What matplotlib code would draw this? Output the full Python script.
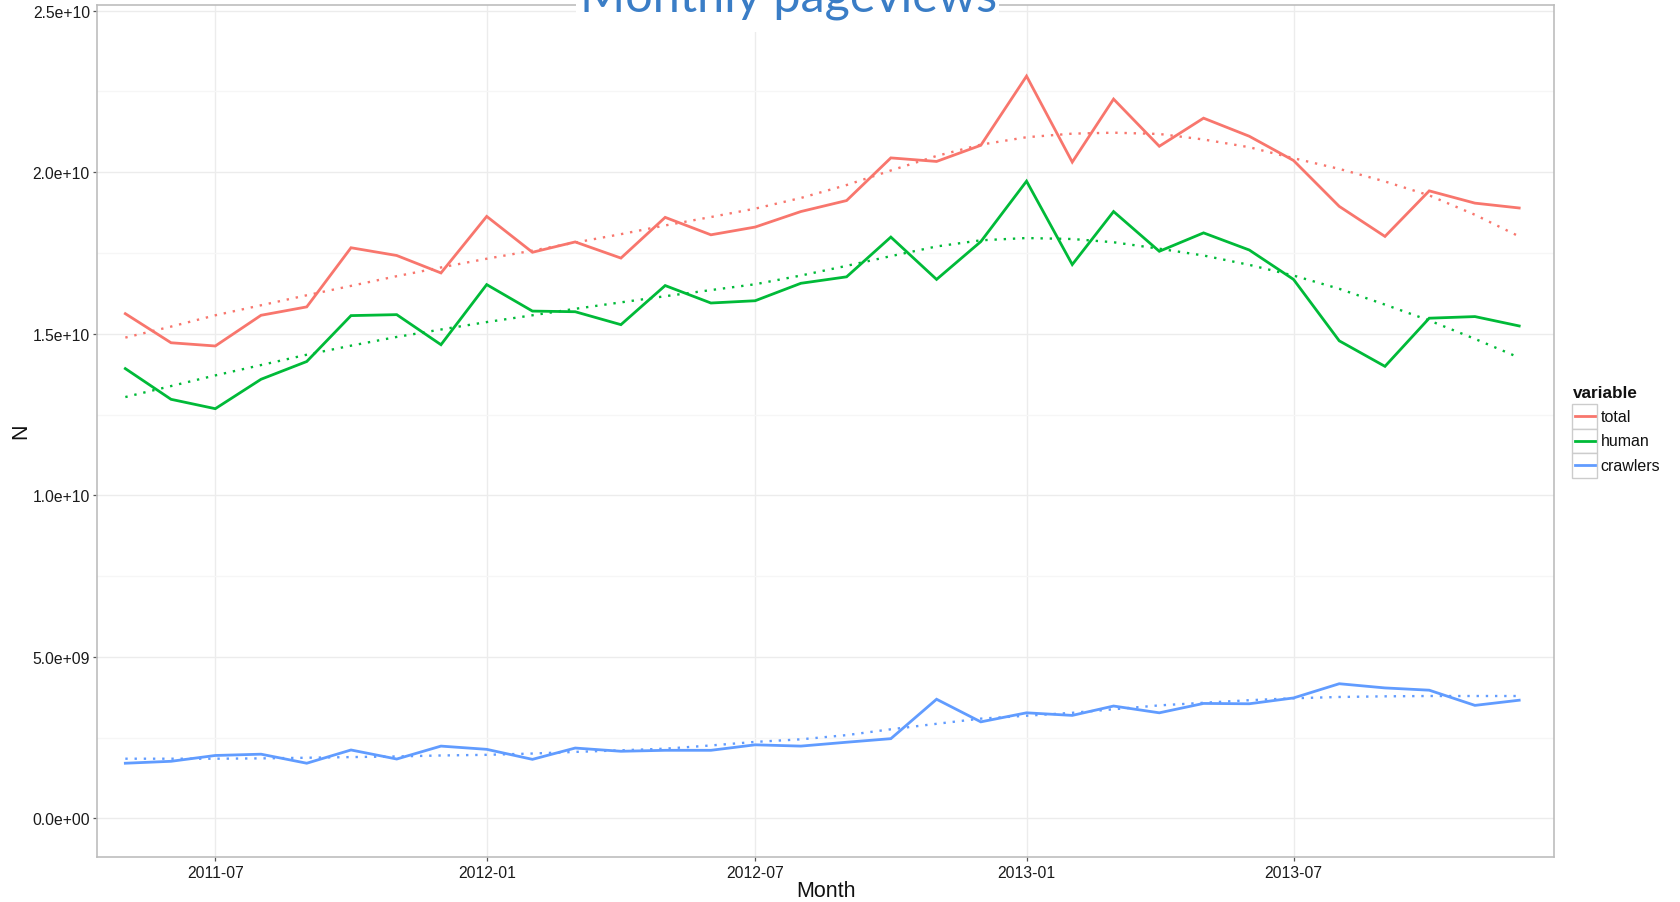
import matplotlib
matplotlib.use("Agg")
import matplotlib.pyplot as plt
import matplotlib.dates as mdates
from matplotlib.patches import Rectangle
from matplotlib.lines import Line2D
from matplotlib.ticker import FuncFormatter, MultipleLocator
import pandas as pd
import numpy as np

# ---------------- data (values in units of 1e10 pageviews) ----------------
start_month = "2011-05-01"
n_months = 32
scale = 1e10

total = [1.562, 1.472, 1.462, 1.557, 1.583, 1.766, 1.742, 1.688,
         1.863, 1.752, 1.784, 1.734, 1.860, 1.806, 1.830, 1.878, 1.912, 2.044, 2.033, 2.083,
         2.297, 2.031, 2.226, 2.080, 2.167, 2.111, 2.036, 1.894, 1.801, 1.942, 1.904, 1.889]
human = [1.392, 1.297, 1.268, 1.359, 1.414, 1.556, 1.559, 1.466,
         1.652, 1.570, 1.568, 1.528, 1.649, 1.595, 1.602, 1.656, 1.676, 1.799, 1.668, 1.785,
         1.972, 1.714, 1.878, 1.755, 1.812, 1.759, 1.668, 1.478, 1.399, 1.548, 1.553, 1.524]
crawlers = [0.171, 0.177, 0.195, 0.199, 0.171, 0.212, 0.184, 0.224,
            0.214, 0.183, 0.218, 0.208, 0.211, 0.211, 0.228, 0.224, 0.236, 0.247, 0.369, 0.299,
            0.327, 0.319, 0.348, 0.327, 0.356, 0.355, 0.373, 0.417, 0.404, 0.397, 0.350, 0.366]

# smoothed trends
total_smooth = [1.488, 1.522, 1.557, 1.588, 1.619, 1.648, 1.678, 1.705,
                1.732, 1.757, 1.782, 1.808, 1.835, 1.861, 1.887, 1.920, 1.960, 2.005, 2.050, 2.085,
                2.108, 2.119, 2.122, 2.118, 2.101, 2.077, 2.043, 2.010, 1.971, 1.928, 1.868, 1.801]
human_smooth = [1.304, 1.338, 1.371, 1.403, 1.435, 1.463, 1.490, 1.513,
                1.536, 1.557, 1.577, 1.597, 1.616, 1.635, 1.653, 1.680, 1.710, 1.740, 1.770, 1.789,
                1.796, 1.793, 1.783, 1.763, 1.742, 1.713, 1.680, 1.639, 1.590, 1.541, 1.484, 1.426]
crawlers_smooth = [0.185, 0.185, 0.185, 0.186, 0.188, 0.190, 0.192, 0.195,
                   0.197, 0.201, 0.206, 0.211, 0.216, 0.226, 0.237, 0.245, 0.258, 0.276, 0.293, 0.309,
                   0.318, 0.327, 0.338, 0.350, 0.358, 0.366, 0.372, 0.376, 0.378, 0.379, 0.379, 0.379]

series_names = ["total", "human", "crawlers"]
series_colors = ["#F8766D", "#00BA38", "#619CFF"]
x_tick_dates = ["2011-07-01", "2012-01-01", "2012-07-01", "2013-01-01", "2013-07-01"]

months = pd.date_range(start_month, periods=n_months, freq="MS")
series = [total, human, crawlers]
smooths = [total_smooth, human_smooth, crawlers_smooth]

# ---------------- figure ----------------
W, H = 1680, 903
plt.rcParams["font.family"] = ["Liberation Sans", "DejaVu Sans"]
fig = plt.figure(figsize=(W / 100, H / 100), dpi=100)

L, R, T, B = 97.3, 1554.3, 5.7, 857.7
ax = fig.add_axes([L / W, 1 - B / H, (R - L) / W, (B - T) / H])

for vals, sm, c in zip(series, smooths, series_colors):
    ax.plot(months, np.array(vals) * scale, color=c, lw=2.0, solid_joinstyle="miter", zorder=3)
    ax.plot(months, np.array(sm) * scale, color=c, lw=1.7, linestyle=(0, (1, 2.9)), zorder=4)

ref = mdates.date2num(pd.Timestamp("2011-07-01"))
ax.set_xlim(ref - 80.0, ref + 907.8)
ax.set_ylim(-0.1182e10, 2.518e10)

ax.set_xticks([mdates.date2num(pd.Timestamp(d)) for d in x_tick_dates])
ax.xaxis.set_major_formatter(mdates.DateFormatter("%Y-%m"))
ax.yaxis.set_major_locator(MultipleLocator(5e9))
ax.yaxis.set_minor_locator(MultipleLocator(2.5e9))
ax.yaxis.set_major_formatter(FuncFormatter(lambda v, p: f"{v:.1e}"))

ax.grid(which="major", color="#ececec", lw=1.0, zorder=0)
ax.grid(which="minor", axis="y", color="#f6f6f6", lw=1.0, zorder=0)
ax.set_axisbelow(True)

for s in ax.spines.values():
    s.set_color("#bdbdbd")
    s.set_linewidth(1.2)

ax.tick_params(axis="both", which="major", length=2.9, width=0.9, color="#555555",
               labelsize=11.3, labelcolor="#1a1a1a")
ax.tick_params(axis="y", which="major", pad=2.4)
ax.tick_params(axis="x", which="major", pad=2.8)
ax.tick_params(which="minor", length=0)

ax.set_xlabel("Month", fontsize=15.5, color="#111111")
ax.xaxis.set_label_coords(825.8 / W, 1 - 897.3 / H, transform=fig.transFigure)
ax.xaxis.label.set_verticalalignment("baseline")
ax.set_ylabel("N", fontsize=15.5, color="#111111")
ax.yaxis.set_label_coords(21.0 / W, 1 - 431.7 / H, transform=fig.transFigure)
ax.yaxis.label.set_verticalalignment("center")

# ---------------- legend (ggplot-style keys) ----------------
fig.text(1572.7 / W, 1 - 398.3 / H, "variable", fontsize=12.3, fontweight="bold",
         color="#111111", va="baseline", ha="left")
key_top = 405.0
key_h = 24.5
for i, (name, c) in enumerate(zip(series_names, series_colors)):
    y0 = key_top + i * key_h
    fig.add_artist(Rectangle((1572.3 / W, 1 - (y0 + key_h) / H), 25.0 / W, key_h / H,
                             transform=fig.transFigure, facecolor="white",
                             edgecolor="#cccccc", lw=1.0))
    yc = y0 + key_h / 2
    fig.add_artist(Line2D([1574.5 / W, 1595.2 / W], [1 - yc / H, 1 - yc / H],
                          transform=fig.transFigure, color=c, lw=2.0))
    fig.text(1600.5 / W, 1 - yc / H, name, fontsize=11.5, color="#111111",
             va="center", ha="left")

# ---------------- title box (cut off at top, as in the original slide) ----------------
fig.add_artist(Rectangle((575.7 / W, 1 - 33.0 / H), (998.9 - 575.7) / W, 40 / H,
                         transform=fig.transFigure, facecolor="white",
                         edgecolor="none", zorder=10))
title = fig.text(580.0 / W, 1 - 11.7 / H, "Monthly pageviews", fontsize=40,
                 family=["Lato", "DejaVu Sans"], color="#3a7dc6",
                 va="baseline", ha="left", zorder=11)
fig.canvas.draw()
w = title.get_window_extent(renderer=fig.canvas.get_renderer()).width
title.set_fontsize(40 * 417.0 / w)

fig.savefig("out.png", dpi=100)
